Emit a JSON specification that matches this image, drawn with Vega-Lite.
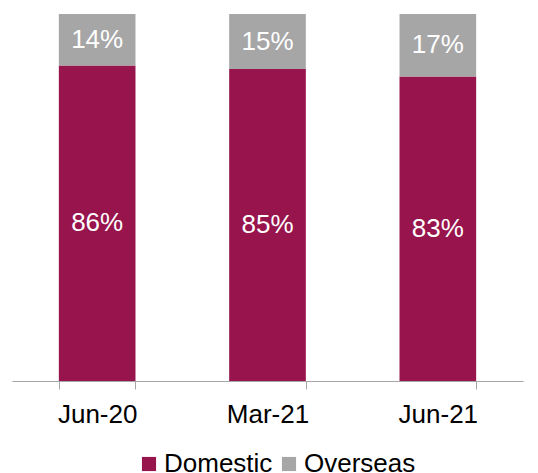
{
  "$schema": "https://vega.github.io/schema/vega-lite/v6.json",
  "width": 511,
  "height": 367,
  "autosize": "none",
  "padding": {"left": 12, "top": 14, "right": 15, "bottom": 92},
  "config": {"view": {"stroke": null}, "font": "Liberation Sans"},
  "data": {"values": [
    {"period": "Jun-20", "series": "Domestic", "share": 86, "label": "86%"},
    {"period": "Jun-20", "series": "Overseas", "share": 14, "label": "14%"},
    {"period": "Mar-21", "series": "Domestic", "share": 85, "label": "85%"},
    {"period": "Mar-21", "series": "Overseas", "share": 15, "label": "15%"},
    {"period": "Jun-21", "series": "Domestic", "share": 83, "label": "83%"},
    {"period": "Jun-21", "series": "Overseas", "share": 17, "label": "17%"}
  ]},
  "transform": [
    {"stack": "share", "groupby": ["period"], "sort": [{"field": "series", "order": "ascending"}], "as": ["y0", "y1"]},
    {"calculate": "(datum.y0 + datum.y1) / 2", "as": "ymid"}
  ],
  "encoding": {
    "x": {
      "field": "period", "type": "nominal", "sort": ["Jun-20", "Mar-21", "Jun-21"],
      "scale": {"paddingInner": 0.55, "paddingOuter": 0.275},
      "axis": {"title": null, "labelAngle": 0, "labelFontSize": 26, "labelColor": "#000000",
               "domainColor": "#A6A6A6", "tickColor": "#A6A6A6", "tickSize": 8, "tickBand": "extent",
               "labelPadding": 12, "grid": false}
    }
  },
  "layer": [
    {
      "mark": {"type": "bar"},
      "encoding": {
        "y": {"field": "y0", "type": "quantitative", "scale": {"domain": [0, 100], "nice": false}, "axis": null},
        "y2": {"field": "y1"},
        "color": {
          "field": "series", "type": "nominal",
          "scale": {"domain": ["Domestic", "Overseas"], "range": ["#97144C", "#A6A6A6"]},
          "legend": {"title": null, "orient": "none", "legendX": 124, "legendY": 437, "direction": "horizontal",
                     "labelFontSize": 26, "labelColor": "#000000", "symbolType": "square", "symbolSize": 200,
                     "symbolStrokeWidth": 0, "symbolOpacity": 1, "labelOffset": 2, "columnPadding": 3, "padding": 0}
        }
      }
    },
    {
      "mark": {"type": "text", "fontSize": 26, "color": "#FFFFFF"},
      "encoding": {
        "y": {"field": "ymid", "type": "quantitative", "scale": {"domain": [0, 100], "nice": false}, "axis": null},
        "text": {"field": "label", "type": "nominal"}
      }
    }
  ]
}
